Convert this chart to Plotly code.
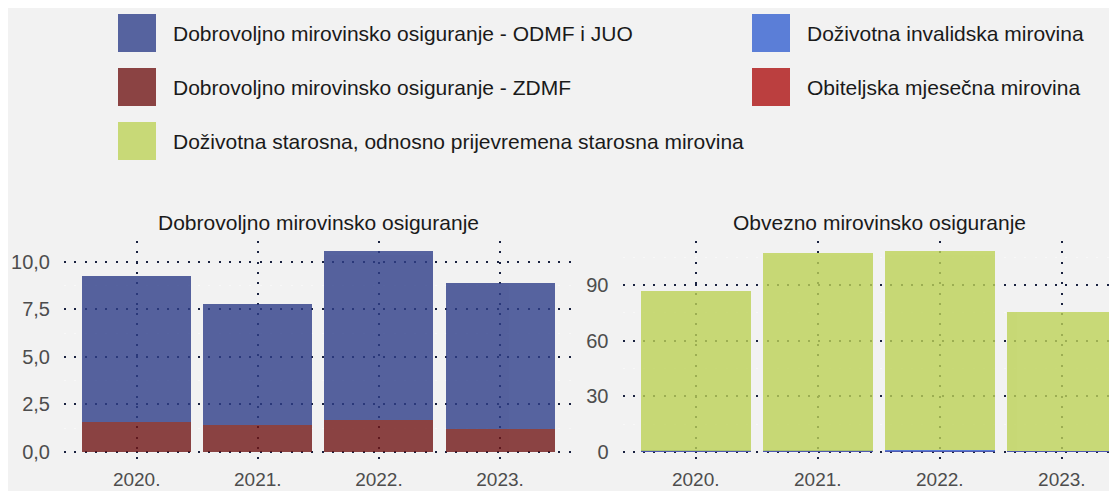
import plotly.graph_objects as go

# ---- data ----
years = ["2020.", "2021.", "2022.", "2023."]

dmo_names = ["Dobrovoljno mirovinsko osiguranje - ZDMF",
             "Dobrovoljno mirovinsko osiguranje - ODMF i JUO"]
dmo_zdmf = [1.58, 1.40, 1.67, 1.23]
dmo_odmf = [7.67, 6.37, 8.89, 7.65]

omo_names = ["Obiteljska mjesečna mirovina",
             "Doživotna invalidska mirovina",
             "Doživotna starosna, odnosno prijevremena starosna mirovina"]
omo_obiteljska = [0.5, 0.5, 0.5, 0.4]
omo_invalidska = [0.1, 0.1, 0.6, 0.1]
omo_starosna = [86.1, 106.6, 107.2, 74.9]

left_title = "Dobrovoljno mirovinsko osiguranje"
right_title = "Obvezno mirovinsko osiguranje"

left_ticks = [0, 2.5, 5, 7.5, 10]
left_ticktext = ["0,0", "2,5", "5,0", "7,5", "10,0"]
right_ticks = [0, 30, 60, 90]
right_ticktext = ["0", "30", "60", "90"]

# colours (drawn with 0.8 opacity)
col = {
    "Dobrovoljno mirovinsko osiguranje - ODMF i JUO": "#2E3E89",
    "Dobrovoljno mirovinsko osiguranje - ZDMF": "#711717",
    "Doživotna starosna, odnosno prijevremena starosna mirovina": "#BDD257",
    "Doživotna invalidska mirovina": "#3560CF",
    "Obiteljska mjesečna mirovina": "#AC1111",
}
OP = 0.8
BG = "#F2F2F2"
GRID = "#1A2240"
FONT = "Liberation Sans, Arial, sans-serif"

# the page body has an 8px margin: size the figure so it fills the window
OFF = 8
W, H = 1117 - OFF, 491 - OFF


def px(x):
    return (x - OFF) / W


def py(y):
    return 1 - (y - OFF) / H


fig = go.Figure()

for name, vals in zip(dmo_names, [dmo_zdmf, dmo_odmf]):
    fig.add_trace(go.Bar(x=years, y=vals, name=name, marker_color=col[name],
                         marker_line_width=0, opacity=OP, width=0.9,
                         xaxis="x", yaxis="y", showlegend=False))
for name, vals in zip(omo_names, [omo_obiteljska, omo_invalidska, omo_starosna]):
    fig.add_trace(go.Bar(x=years, y=vals, name=name, marker_color=col[name],
                         marker_line_width=0, opacity=OP, width=0.9,
                         xaxis="x2", yaxis="y2", showlegend=False))

ydom = [py(462), py(241)]
axis_common = dict(
    showgrid=True, gridcolor=GRID, gridwidth=2, griddash="2px,8.3px",
    zeroline=False, showline=False, automargin=False,
    ticks="outside", tickcolor="rgba(0,0,0,0)",
)
ytickfont = dict(family=FONT, size=20, color="#4D4D4D")
xtickfont = dict(family=FONT, size=19, color="#4D4D4D")

fig.update_layout(
    width=W, height=H,
    margin=dict(l=0, r=0, t=0, b=0),
    paper_bgcolor=BG, plot_bgcolor=BG,
    barmode="stack", bargap=0.1,
    font=dict(family=FONT, size=20, color="#1A1A1A"),
    showlegend=False,
    xaxis=dict(domain=[px(64), px(572.7)], range=[-0.6, 3.6], type="category",
               anchor="y", ticklen=0, tickfont=xtickfont, **axis_common),
    yaxis=dict(domain=ydom, range=[-0.53, 11.09], anchor="x",
               tickvals=left_ticks, ticktext=left_ticktext, ticklen=9, tickfont=ytickfont,
               minor=dict(showgrid=True, dtick=1.25, tick0=0, gridcolor="#F8F8F8", gridwidth=1),
               **axis_common),
    xaxis2=dict(domain=[px(622.5), 1], range=[-0.6, 3.452], type="category",
                anchor="y2", ticklen=0, tickfont=xtickfont, **axis_common),
    yaxis2=dict(domain=ydom, range=[-5.42, 113.7], anchor="x2",
                tickvals=right_ticks, ticktext=right_ticktext, ticklen=9, tickfont=ytickfont,
                minor=dict(showgrid=True, dtick=15, tick0=0, gridcolor="#F8F8F8", gridwidth=1),
                **axis_common),
)

# subplot titles
ann = [
    dict(text=left_title, x=px(318), y=py(222), xref="paper", yref="paper",
         xanchor="center", yanchor="middle", showarrow=False,
         font=dict(family=FONT, size=21, color="#1A1A1A")),
    dict(text=right_title, x=px(879), y=py(222), xref="paper", yref="paper",
         xanchor="center", yanchor="middle", showarrow=False,
         font=dict(family=FONT, size=21, color="#1A1A1A")),
]

# manual legend (large swatches as in the reference)
legend_items = [
    ("Dobrovoljno mirovinsko osiguranje - ODMF i JUO", 0, 0),
    ("Dobrovoljno mirovinsko osiguranje - ZDMF", 0, 1),
    ("Doživotna starosna, odnosno prijevremena starosna mirovina", 0, 2),
    ("Doživotna invalidska mirovina", 1, 0),
    ("Obiteljska mjesečna mirovina", 1, 1),
]
col_x = [118, 752]
row_y = [33, 87, 141]
shapes = []
for name, c, r in legend_items:
    x0 = col_x[c]
    yc = row_y[r]
    shapes.append(dict(type="rect", xref="paper", yref="paper",
                       x0=px(x0), x1=px(x0 + 38),
                       y0=py(yc + 19), y1=py(yc - 19),
                       fillcolor=col[name], opacity=OP, line=dict(width=0)))
    ann.append(dict(text=name, x=px(x0 + 53), y=py(yc), xref="paper", yref="paper",
                    xanchor="left", yanchor="middle", showarrow=False,
                    font=dict(family=FONT, size=21, color="#1A1A1A")))

fig.update_layout(annotations=ann, shapes=shapes)

fig.write_html("out.html")
